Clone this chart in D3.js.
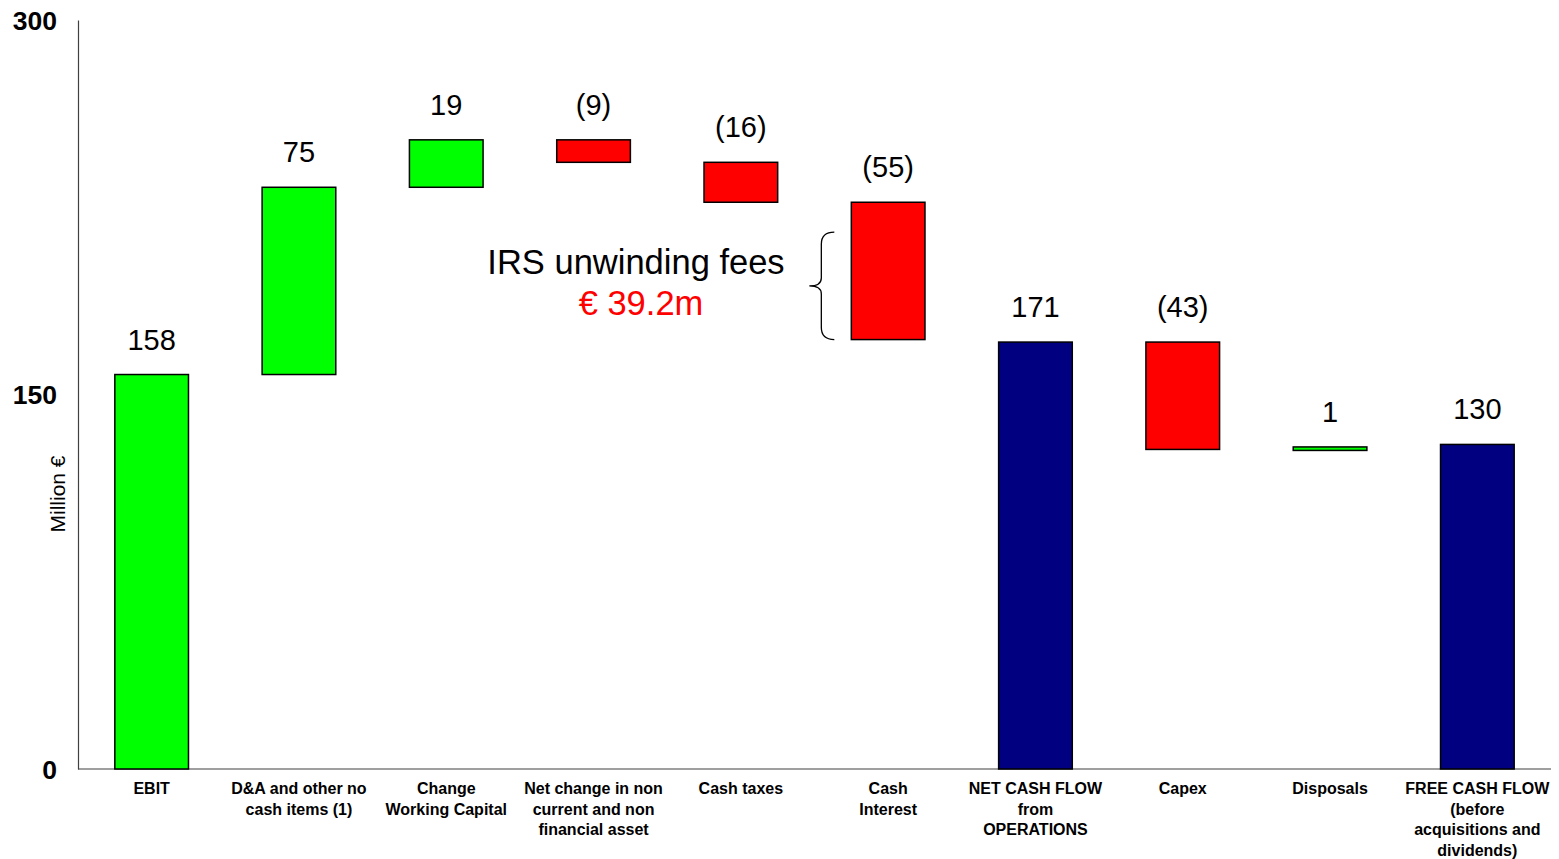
<!DOCTYPE html>
<html lang="en">
  <head>
    <meta charset="utf-8">
    <title>Cash flow waterfall</title>
    <script type="text/javascript" src="https://cdn.jsdelivr.net/npm/d3@7"></script>
    <style type="text/css">
      body { margin: 0; background: #fff; }
      svg { display: block; }
      text { font-family: Arial, "Liberation Sans", sans-serif; }
    </style>
  </head>
  <body>
    <script type="text/javascript">

      // Data
      var categories = [
        ["EBIT"],
        ["D&A and other no", "cash items (1)"],
        ["Change", "Working Capital"],
        ["Net change in non", "current and non", "financial asset"],
        ["Cash taxes"],
        ["Cash", "Interest"],
        ["NET CASH FLOW", "from", "OPERATIONS"],
        ["Capex"],
        ["Disposals"],
        ["FREE CASH FLOW", "(before", "acquisitions and", "dividends)"]
      ];
      var values = [158, 75, 19, -9, -16, -55, 171, -43, 1, 130];
      // "start" = bar from zero, "step" = floating change, "total" = subtotal from zero
      var kinds = ["start", "step", "step", "step", "step", "step", "total", "step", "step", "total"];
      var yTicks = [0, 150, 300];
      var braceRange = [172, 215];
      var noteLines = ["IRS unwinding fees", "€ 39.2m"];

      var w = 1559;
      var h = 859;

      var svg = d3.select("body")
        .append("svg")
        .attr("width", w)
        .attr("height", h);

      var xScale = d3.scaleBand()
        .domain(d3.range(values.length))
        .range([78, 1551])
        .paddingInner(0.5)
        .paddingOuter(0.25);

      var yScale = d3.scaleLinear()
        .domain([0, 300])
        .range([769, 20]);

      // work out the floating segments
      var running = 0;
      var bars = values.map(function(v, i) {
        var lo, hi;
        if (kinds[i] == "step") {
          lo = Math.min(running, running + v);
          hi = Math.max(running, running + v);
          running = running + v;
        } else {
          lo = 0;
          hi = v;
          running = v;
        }
        var color = kinds[i] == "total" ? "#000080" : (v < 0 ? "#ff0000" : "#00ff00");
        return { i: i, v: v, lo: lo, hi: hi, color: color };
      });

      // x axis line
      svg.append("line")
        .attr("x1", 78)
        .attr("x2", 1551)
        .attr("y1", yScale(0))
        .attr("y2", yScale(0))
        .attr("stroke", "#7f7f7f")
        .attr("stroke-width", 1.5);

      // y axis
      var yAxis = d3.axisLeft(yScale)
        .tickValues(yTicks)
        .tickSize(0)
        .tickPadding(21);

      var gy = svg.append("g")
        .attr("transform", "translate(78,0)")
        .call(yAxis);
      gy.select(".domain").attr("stroke", "#404040").attr("stroke-width", 1.2);
      gy.selectAll("text")
        .attr("font-family", "Arial, 'Liberation Sans', sans-serif")
        .attr("font-size", "26.5px")
        .attr("font-weight", "bold")
        .attr("fill", "#000")
        .attr("dy", "0.35em");

      svg.append("text")
        .attr("transform", "translate(65," + 494 + ") rotate(-90)")
        .attr("text-anchor", "middle")
        .attr("font-size", "21px")
        .text("Million €");

      // bars
      svg.selectAll("rect.bar")
        .data(bars)
        .enter()
        .append("rect")
        .attr("class", "bar")
        .attr("x", function(d) { return xScale(d.i); })
        .attr("width", xScale.bandwidth())
        .attr("y", function(d) { return yScale(d.hi); })
        .attr("height", function(d) { return Math.max(3.5, yScale(d.lo) - yScale(d.hi)); })
        .attr("fill", function(d) { return d.color; })
        .attr("stroke", "#000")
        .attr("stroke-width", 1.5);

      // value labels
      svg.selectAll("text.val")
        .data(bars)
        .enter()
        .append("text")
        .attr("class", "val")
        .attr("text-anchor", "middle")
        .attr("x", function(d) { return xScale(d.i) + xScale.bandwidth() / 2; })
        .attr("y", function(d) { return yScale(d.hi) - 25; })
        .attr("font-size", "29px")
        .text(function(d) { return d.v < 0 ? "(" + (-d.v) + ")" : d.v; });

      // category labels
      var cats = svg.selectAll("text.cat")
        .data(categories)
        .enter()
        .append("text")
        .attr("class", "cat")
        .attr("text-anchor", "middle")
        .attr("font-size", "16px")
        .attr("font-weight", "bold")
        .attr("x", function(d, i) { return xScale(i) + xScale.bandwidth() / 2; })
        .attr("y", 794);

      cats.selectAll("tspan")
        .data(function(d) { return d; })
        .enter()
        .append("tspan")
        .attr("x", function() { return d3.select(this.parentNode).attr("x"); })
        .attr("dy", function(d, j) { return j == 0 ? 0 : 20.5; })
        .text(function(d) { return d; });

      // brace next to Cash Interest
      var bx = xScale(5) - 30;
      var yTop = yScale(braceRange[1]);
      var yBot = yScale(braceRange[0]);
      var yMid = (yTop + yBot) / 2;
      var r = 8;
      var bracePath = "M" + (bx + 13) + "," + yTop +
        " Q" + bx + "," + yTop + " " + bx + "," + (yTop + r + 4) +
        " L" + bx + "," + (yMid - r) +
        " Q" + bx + "," + yMid + " " + (bx - 12) + "," + yMid +
        " Q" + bx + "," + yMid + " " + bx + "," + (yMid + r) +
        " L" + bx + "," + (yBot - r - 4) +
        " Q" + bx + "," + yBot + " " + (bx + 13) + "," + yBot;
      svg.append("path")
        .attr("d", bracePath)
        .attr("fill", "none")
        .attr("stroke", "#000")
        .attr("stroke-width", 1.3);

      svg.append("text")
        .attr("x", 636)
        .attr("y", 274)
        .attr("text-anchor", "middle")
        .attr("font-size", "34.5px")
        .text(noteLines[0]);

      svg.append("text")
        .attr("x", 641)
        .attr("y", 315)
        .attr("text-anchor", "middle")
        .attr("font-size", "34.5px")
        .attr("fill", "#ff0000")
        .text(noteLines[1]);

    </script>
  </body>
</html>
